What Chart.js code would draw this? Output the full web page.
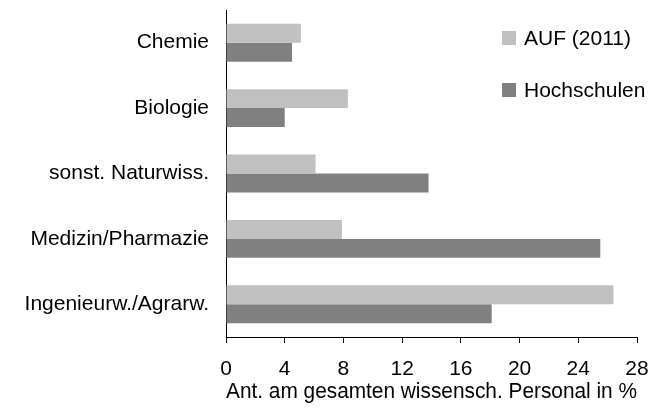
<!DOCTYPE html>
<html>
<head>
<meta charset="utf-8">
<script src="https://cdn.jsdelivr.net/npm/chart.js@4"></script>
<style>
  html, body { margin: 0; padding: 0; background: #fff; }
  #wrap { position: relative; width: 652px; height: 410px; }
  #legend { position: absolute; left: 502px; top: 28px; font: 21px "Liberation Sans", Arial, sans-serif; color: #000; }
  #legend .item { display: flex; align-items: center; height: 20px; margin-bottom: 32px; white-space: nowrap; }
  #legend .box { width: 14px; height: 14px; margin-right: 8px; }
</style>
</head>
<body>
<div id="wrap">
  <canvas id="chart" width="652" height="410"></canvas>
  <div id="legend"></div>
</div>
<script>
const categories = ["Chemie", "Biologie", "sonst. Naturwiss.", "Medizin/Pharmazie", "Ingenieurw./Agrarw."];
const aufValues = [5.1, 8.3, 6.1, 7.9, 26.4];
const hochschulenValues = [4.5, 4.0, 13.8, 25.5, 18.1];
const seriesNames = ["AUF (2011)", "Hochschulen"];
const seriesColors = ["#c0c0c0", "#808080"];
const xTitle = "Ant. am gesamten wissensch. Personal in %";

const font = { family: '"Liberation Sans", Arial, sans-serif', size: 21 };

const chart = new Chart(document.getElementById("chart"), {
  type: "bar",
  data: {
    labels: categories,
    datasets: [
      { label: seriesNames[0], data: aufValues, backgroundColor: seriesColors[0] },
      { label: seriesNames[1], data: hochschulenValues, backgroundColor: seriesColors[1] }
    ]
  },
  options: {
    indexAxis: "y",
    responsive: false,
    animation: false,
    devicePixelRatio: 1,
    categoryPercentage: 0.58,
    barPercentage: 1,
    layout: { padding: { top: 10, right: 15, bottom: 0, left: 0 } },
    plugins: { legend: { display: false }, tooltip: { enabled: false } },
    scales: {
      y: {
        grid: { display: false, drawTicks: false },
        border: { display: true, color: "#000", width: 1 },
        ticks: { color: "#000", font, padding: 17 },
        afterFit(scale) { scale.width = 226; scale.paddingTop = 0; scale.paddingBottom = 0; }
      },
      x: {
        min: 0,
        max: 28,
        grid: { display: true, drawOnChartArea: false, drawTicks: true, tickLength: 6, color: "#000" },
        border: { display: true, color: "#000", width: 1 },
        ticks: { stepSize: 4, color: "#000", font, padding: 14, maxRotation: 0 },
        title: { display: true, text: xTitle, color: "#000", font: { ...font, size: 22, lineHeight: 1 }, padding: { top: 0, bottom: 7 } },
        afterFit(scale) { scale.height = 73; scale.paddingLeft = 0; scale.paddingRight = 0; }
      }
    }
  }
});

// legend drawn as html, next to the plot like in the original
const legend = document.getElementById("legend");
chart.data.datasets.forEach(ds => {
  const item = document.createElement("div");
  item.className = "item";
  const box = document.createElement("span");
  box.className = "box";
  box.style.background = ds.backgroundColor;
  const txt = document.createElement("span");
  txt.textContent = ds.label;
  item.appendChild(box);
  item.appendChild(txt);
  legend.appendChild(item);
});
</script>
</body>
</html>
